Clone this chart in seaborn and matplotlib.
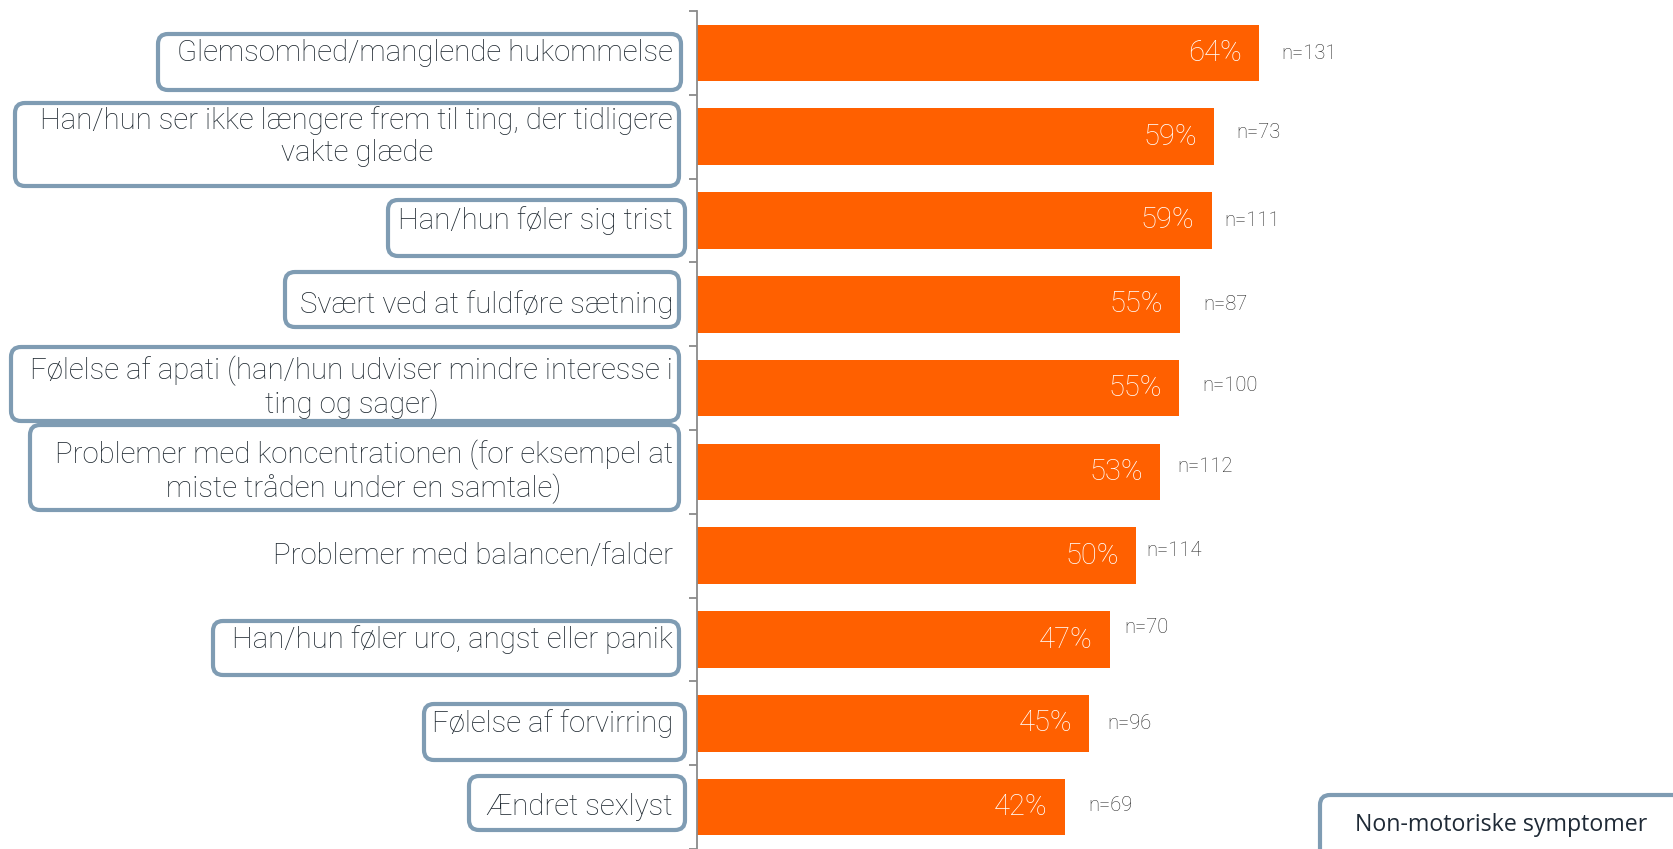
import matplotlib
matplotlib.use("Agg")
import matplotlib.pyplot as plt
import seaborn as sns
import pandas as pd
from matplotlib.patches import FancyBboxPatch
from matplotlib.transforms import blended_transform_factory

# ---- data ----
categories = [
    "Glemsomhed/manglende hukommelse",
    "Han/hun ser ikke længere frem til ting, der tidligere\nvakte glæde",
    "Han/hun føler sig trist",
    "Svært ved at fuldføre sætning",
    "Følelse af apati (han/hun udviser mindre interesse i\nting og sager)",
    "Problemer med koncentrationen (for eksempel at\nmiste tråden under en samtale)",
    "Problemer med balancen/falder",
    "Han/hun føler uro, angst eller panik",
    "Følelse af forvirring",
    "Ændret sexlyst",
]
values = [64.0, 58.9, 58.6, 55.0, 54.9, 52.7, 50.0, 47.0, 44.7, 41.9]
n_labels = ["n=131", "n=73", "n=111", "n=87", "n=100", "n=112", "n=114", "n=70", "n=96", "n=69"]
legend_text = "Non-motoriske symptomer"

# ---- styles ----
ORANGE = "#FF6000"
BOX_EDGE = "#7F9CB3"
TEXT = "#1E2830"
W, H = 1673, 849
# label boxes in pixels (left, top, right, bottom); None = no box
boxes = [
    (158, 34, 681, 90),
    (15, 103, 679, 186),
    (388, 200, 685, 256),
    (285, 272, 679, 327),
    (11, 347, 679, 421),
    (30, 425, 679, 510),
    None,
    (213, 621, 679, 675),
    (424, 704, 685, 760),
    (469, 776, 685, 830),
]
# n-label offsets in pixels (dx from bar end, dy downward)
n_dx = [22, 22, 13, 23, 23, 18, 10, 15, 18, 23]
n_dy = [1, -4, 0, 0, -3, -5, -5, -12, 0, -2]

sns.set_theme(style="white")
plt.rcParams["font.family"] = ["Roboto", "DejaVu Sans"]

fig = plt.figure(figsize=(W / 100, H / 100), dpi=100)
ax_left, ax_top = 697, 11
ax = fig.add_axes([ax_left / W, 0, (W - ax_left) / W, (H - ax_top) / H])

df = pd.DataFrame({"cat": categories, "val": values})
sns.barplot(data=df, y="cat", x="val", orient="h", color=ORANGE, width=0.675,
            saturation=1, ax=ax, edgecolor="none")

px_per_unit = 8.78
ax.set_xlim(0, (W - ax_left) / px_per_unit)
ax.set_ylim(len(categories) - 0.5, -0.5)
ax.set_xlabel("")
ax.set_ylabel("")
ax.set_xticks([])
ax.set_yticks([i - 0.5 for i in range(len(categories) + 1)])
ax.set_yticklabels([])
ax.tick_params(axis="y", length=5.5, width=1.3, color="#8A8A8A", left=True, pad=0)
for s in ["top", "right", "bottom"]:
    ax.spines[s].set_visible(False)
ax.spines["left"].set_color("#8A8A8A")
ax.spines["left"].set_linewidth(1.3)

pt = 0.72  # points per pixel at 100 dpi

# value labels and n labels
for i, (v, n) in enumerate(zip(values, n_labels)):
    ax.annotate(f"{v:.0f}%", xy=(v, i), xytext=(-17 * pt, 0), textcoords="offset points",
                ha="right", va="center", color="white", fontsize=21, fontweight="light")
    ax.annotate(n, xy=(v, i), xytext=(n_dx[i] * pt, -n_dy[i] * pt), textcoords="offset points",
                ha="left", va="center", color="#2A2A2A", fontsize=14.5, fontweight="light")

# category labels
trans = blended_transform_factory(fig.transFigure, ax.transData)
for i, c in enumerate(categories):
    ax.text(673 / W, i, c, transform=trans, ha="right", va="center", multialignment="center",
            fontsize=21.2, fontweight="light", color=TEXT, linespacing=1.17, clip_on=False)

# rounded boxes
for b in boxes:
    if b is None:
        continue
    l, t, r, btm = b
    patch = FancyBboxPatch(((l) / 100, (H - btm) / 100), (r - l) / 100, (btm - t) / 100,
                           boxstyle="round,pad=0,rounding_size=0.1",
                           transform=fig.dpi_scale_trans, facecolor="none",
                           edgecolor=BOX_EDGE, linewidth=3.0, clip_on=False)
    fig.add_artist(patch)

# legend box
leg = FancyBboxPatch((1320 / 100, (H - 870) / 100), 400 / 100, 75 / 100,
                     boxstyle="round,pad=0,rounding_size=0.1",
                     transform=fig.dpi_scale_trans, facecolor="white",
                     edgecolor=BOX_EDGE, linewidth=3.0, clip_on=False)
fig.add_artist(leg)
fig.text(1501 / W, 1 - 825 / H, legend_text, ha="center", va="center",
         fontsize=16.7, color="#1F2A36", family=["Open Sans", "DejaVu Sans"])

fig.savefig("out.png", dpi=100)
